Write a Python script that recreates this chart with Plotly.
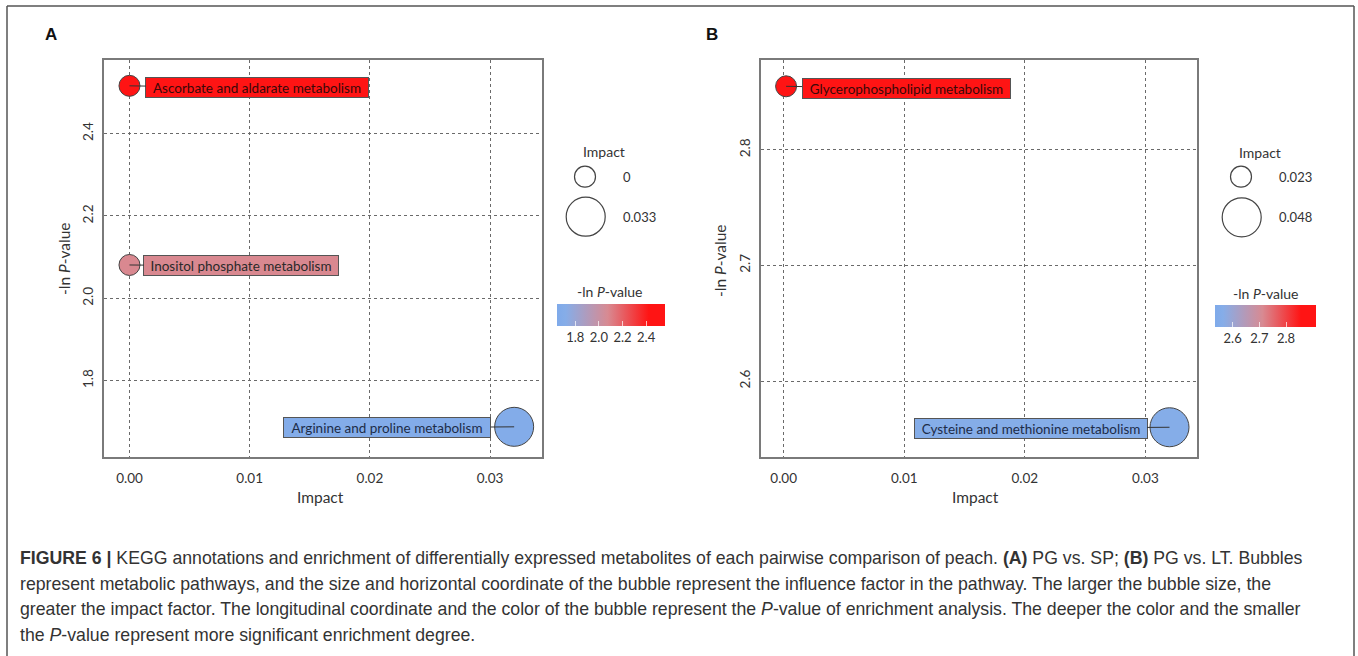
import plotly.graph_objects as go
from plotly.colors import sample_colorscale

W, H = 1358, 656

# ---------------- data ----------------
pathways_A = ["Ascorbate and aldarate metabolism", "Inositol phosphate metabolism", "Arginine and proline metabolism"]
impact_A = [0.0, 0.0, 0.032]
neglogp_A = [2.516, 2.081, 1.688]

pathways_B = ["Glycerophospholipid metabolism", "Cysteine and methionine metabolism"]
impact_B = [0.0002, 0.032]
neglogp_B = [2.855, 2.560]

legend_impact_A = ["0", "0.033"]
legend_impact_B = ["0.023", "0.048"]

xticks = [0.0, 0.01, 0.02, 0.03]
yticks_A = [1.8, 2.0, 2.2, 2.4]
yticks_B = [2.6, 2.7, 2.8]
cbar_ticks_A = [1.8, 2.0, 2.2, 2.4]
cbar_ticks_B = [2.6, 2.7, 2.8]
cbar_range_A = [1.645, 2.56]
cbar_range_B = [2.534, 2.912]
xrange_A = [-0.00212, 0.0343]
yrange_A = [1.614, 2.578]
xrange_B = [-0.00188, 0.03428]
yrange_B = [2.534, 2.8775]

caption_lines = [
    "<b>FIGURE 6 |</b> KEGG annotations and enrichment of differentially expressed metabolites of each pairwise comparison of peach. <b>(A)</b> PG vs. SP; <b>(B)</b> PG vs. LT. Bubbles",
    "represent metabolic pathways, and the size and horizontal coordinate of the bubble represent the influence factor in the pathway. The larger the bubble size, the",
    "greater the impact factor. The longitudinal coordinate and the color of the bubble represent the <i>P</i>-value of enrichment analysis. The deeper the color and the smaller",
    "the <i>P</i>-value represent more significant enrichment degree.",
]

# ---------------- style ----------------
colorscale = [[0.0, "#7FAAEA"], [0.08, "#86ADE8"], [0.47, "#D88A92"], [0.85, "#FF1414"], [1.0, "#FF1414"]]
FONT = "Lato, 'Open Sans', sans-serif"
SMIN, SMAX = 21, 39


def px(x):
    return x / W


def py(y):
    return 1 - y / H


def sizes(imp):
    lo, hi = min(imp), max(imp)
    return [SMIN + (SMAX - SMIN) * (v - lo) / (hi - lo) for v in imp]


def colors(vals, rng):
    fr = [min(max((v - rng[0]) / (rng[1] - rng[0]), 0), 1) for v in vals]
    return sample_colorscale(colorscale, fr)


fig = go.Figure()


def cbar(x0, length, ytop, ticks):
    return dict(orientation="h", x=px(x0), xanchor="left", y=py(ytop), yanchor="top",
                len=length, lenmode="pixels", thickness=22, thicknessmode="pixels",
                outlinewidth=0, xpad=0, ypad=0, tickvals=ticks, tickformat=".1f",
                ticks="inside", tickcolor="rgba(255,255,255,0.7)", ticklen=5,
                tickfont=dict(family=FONT, size=13, color="#333"))


fig.add_trace(go.Scatter(
    x=impact_A, y=neglogp_A, mode="markers", xaxis="x", yaxis="y", showlegend=False,
    marker=dict(size=sizes(impact_A), sizemode="diameter", color=neglogp_A,
                colorscale=colorscale, cmin=cbar_range_A[0], cmax=cbar_range_A[1],
                line=dict(color="#444", width=1), opacity=1,
                showscale=True, colorbar=cbar(557, 108, 304, cbar_ticks_A))))

fig.add_trace(go.Scatter(
    x=impact_B, y=neglogp_B, mode="markers", xaxis="x2", yaxis="y2", showlegend=False,
    marker=dict(size=sizes(impact_B), sizemode="diameter", color=neglogp_B,
                colorscale=colorscale, cmin=cbar_range_B[0], cmax=cbar_range_B[1],
                line=dict(color="#444", width=1), opacity=1,
                showscale=True, colorbar=cbar(1215, 101, 305, cbar_ticks_B))))

ydom = [py(457.3), py(60.3)]
axis_common = dict(showgrid=True, gridcolor="#6a6a6a", griddash="dot", gridwidth=1,
                   zeroline=False, showline=True, linecolor="#7a7a7a", linewidth=1.5,
                   mirror=True, ticks="", tickfont=dict(family=FONT, size=13.5, color="#333"))

fig.update_layout(
    width=W, height=H, margin=dict(l=0, r=0, t=0, b=0),
    paper_bgcolor="white", plot_bgcolor="white",
    xaxis=dict(domain=[px(104), px(541.8)], range=xrange_A, tickvals=xticks,
               tickformat=".2f", anchor="y", ticklabelstandoff=8, **axis_common),
    yaxis=dict(domain=ydom, range=yrange_A, tickvals=yticks_A, tickformat=".1f",
               anchor="x", tickangle=-90, ticklabelstandoff=4, **axis_common),
    xaxis2=dict(domain=[px(761), px(1197)], range=xrange_B, tickvals=xticks,
                tickformat=".2f", anchor="y2", ticklabelstandoff=8, **axis_common),
    yaxis2=dict(domain=ydom, range=yrange_B, tickvals=yticks_B, tickformat=".1f",
                anchor="x2", tickangle=-90, ticklabelstandoff=4, **axis_common),
)

ann = []
shapes = []

# pathway labels
label_layout_A = [(128, 2, 224, 21), (112, 1, 196, 21), (-127, 1, 208, 21)]
label_layout_B = [(120, 2, 209, 21), (-139, 1, 234, 21)]


def add_labels(names, xs, ys, rng, layout, xr, yr):
    cols = colors(ys, rng)
    for i, name in enumerate(names):
        ax, ay, w, h = layout[i]
        frac = (ys[i] - rng[0]) / (rng[1] - rng[0])
        tc = "#3a0808" if frac > 0.7 else ("#1d2c48" if frac < 0.2 else "#2a2a2a")
        ann.append(dict(x=xs[i], y=ys[i], xref=xr, yref=yr, text=name,
                        showarrow=True, arrowhead=0, arrowwidth=1, arrowcolor="#333",
                        standoff=0, ax=ax, ay=ay, bgcolor=cols[i], bordercolor="#555",
                        borderwidth=1, borderpad=2, width=w - 6, height=h - 6,
                        align="center", font=dict(family=FONT, size=13.5, color=tc)))


add_labels(pathways_A, impact_A, neglogp_A, cbar_range_A, label_layout_A, "x", "y")
add_labels(pathways_B, impact_B, neglogp_B, cbar_range_B, label_layout_B, "x2", "y2")


def txt(x, y, text, size, **kw):
    d = dict(x=px(x), y=py(y), xref="paper", yref="paper", text=text, showarrow=False,
             xanchor="center", yanchor="middle", font=dict(family=FONT, size=size, color="#333"))
    d.update(kw)
    ann.append(d)


# axis titles
for cx in (320, 975):
    txt(cx, 497, "Impact", 15.5)
for cx, cy in ((64, 259), (720, 261)):
    txt(cx, cy, "-ln <i>P</i>-value", 15.5, textangle=-90)

# panel letters
for t, cx in (("A", 51), ("B", 712)):
    txt(cx, 35, "<b>%s</b>" % t, 17, font=dict(family="Liberation Sans, Arial", size=17, color="#111"))

# size legends
for (tx, ty), (cx_s, cy_s), (cx_b, cy_b), labels, lx in (
        ((604, 151), (585, 176.7), (585.7, 216.7), legend_impact_A, 621),
        ((1260, 152), (1241, 176.7), (1241.7, 217.3), legend_impact_B, 1277)):
    txt(tx, ty, "Impact", 14)
    for (cx, cy), d, lab in (((cx_s, cy_s), SMIN, labels[0]), ((cx_b, cy_b), SMAX, labels[1])):
        shapes.append(dict(type="circle", xref="paper", yref="paper",
                           x0=px(cx - d / 2), x1=px(cx + d / 2), y0=py(cy + d / 2), y1=py(cy - d / 2),
                           line=dict(color="#444", width=1.2), fillcolor="rgba(0,0,0,0)"))
        txt(lx, cy, lab, 13, xanchor="left")

# colour legend titles
for cx, cy in ((610, 292), (1266, 293)):
    txt(cx, cy, "-ln <i>P</i>-value", 14)

# caption
for i, line in enumerate(caption_lines):
    txt(18, 558 + 25.5 * i, line, 17.7, xanchor="left",
        font=dict(family="Liberation Sans, Arial", size=17.7, color="#333"))

# frame
frame = dict(color="#555", width=1.5)
shapes += [
    dict(type="line", xref="paper", yref="paper", x0=px(7), x1=px(1354), y0=py(6), y1=py(6), line=frame),
    dict(type="line", xref="paper", yref="paper", x0=px(7), x1=px(7), y0=py(6), y1=py(656), line=frame),
    dict(type="line", xref="paper", yref="paper", x0=px(1354), x1=px(1354), y0=py(6), y1=py(656), line=frame),
]

fig.update_layout(annotations=ann, shapes=shapes)
fig.write_html("out.html")
